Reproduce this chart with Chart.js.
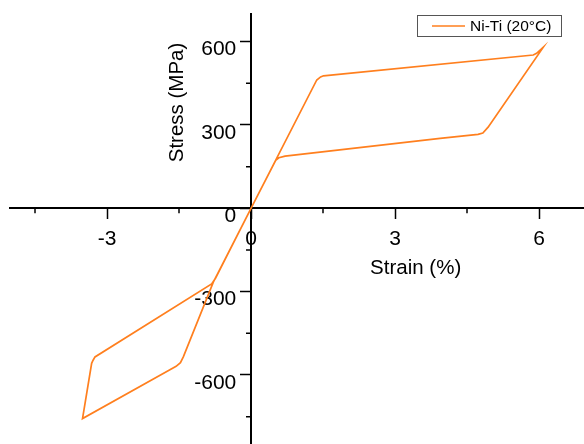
<!DOCTYPE html>
<html>
<head>
<meta charset="utf-8">
<script src="https://cdn.jsdelivr.net/npm/chart.js@4"></script>
<style>
html, body { margin: 0; padding: 0; background: #fff; }
</style>
</head>
<body>
<canvas id="mycanvas" width="584" height="444"></canvas>
<script>
// data
var seriesLabel = "Ni-Ti (20°C)";
var strain = [0, 1.37, 1.45, 1.51, 5.88, 5.95, 6.09, 4.94, 4.83, 4.73, 3.94, 0.71, 0.58, 0.52, 0,
              -0.785, -1.41, -1.47, -1.56, -1.68, -3.51, -3.32, -3.29, -3.25, -0.82, -0.74, 0];
var stress = [0, 462, 473, 477, 552, 558, 580, 292, 271, 266, 252, 188, 182, 174, 0,
              -266, -535, -556, -569, -580, -757, -558, -547, -535, -272, -252, 0];
var xTicks = [-3, 0, 3, 6];
var xMinor = [-4.5, -1.5, 1.5, 4.5];
var yTicks = [-600, -300, 0, 300, 600];
var yMinor = [-750, -450, -150, 150, 450];
var xTitle = "Strain (%)";
var yTitle = "Stress (MPa)";

var lineColor = "#ff7f1e";
var fontFamily = "'Liberation Sans', Arial, sans-serif";

var points = [];
for (var i in strain) {
  points.push({ x: strain[i], y: stress[i] });
}

// minor ticks, axis titles and the boxed legend
var extras = {
  id: "extras",
  afterDraw: function(chart) {
    var ctx = chart.ctx;
    var xs = chart.scales.x, ys = chart.scales.y;
    var x0 = xs.getPixelForValue(0), y0 = ys.getPixelForValue(0);
    ctx.save();
    ctx.strokeStyle = "#000";
    ctx.lineWidth = 1.5;
    ctx.beginPath();
    xMinor.forEach(function(v) {
      var px = xs.getPixelForValue(v);
      ctx.moveTo(px, y0);
      ctx.lineTo(px, y0 + 5);
    });
    yMinor.forEach(function(v) {
      var py = ys.getPixelForValue(v);
      ctx.moveTo(x0, py);
      ctx.lineTo(x0 - 5, py);
    });
    ctx.stroke();

    ctx.fillStyle = "#000";
    ctx.font = "20.5px " + fontFamily;
    ctx.textAlign = "center";
    ctx.textBaseline = "middle";
    ctx.fillText(xTitle, xs.getPixelForValue(3.43), y0 + 60);
    ctx.save();
    ctx.translate(x0 - 74, ys.getPixelForValue(381));
    ctx.rotate(-Math.PI / 2);
    ctx.fillText(yTitle, 0, 0);
    ctx.restore();

    // legend
    var a = chart.chartArea;
    var bx = a.right - 167, by = a.top + 1;
    ctx.fillStyle = "#fff";
    ctx.fillRect(bx, by, 144, 21);
    ctx.strokeStyle = "#555";
    ctx.lineWidth = 1;
    ctx.strokeRect(bx + 0.5, by + 0.5, 144, 21);
    ctx.strokeStyle = lineColor;
    ctx.lineWidth = 1.5;
    ctx.beginPath();
    ctx.moveTo(bx + 15, by + 11);
    ctx.lineTo(bx + 48, by + 11);
    ctx.stroke();
    ctx.fillStyle = "#000";
    ctx.font = "15.5px " + fontFamily;
    ctx.textAlign = "left";
    ctx.fillText(seriesLabel, bx + 53, by + 12);
    ctx.restore();
  }
};

var ctx = document.getElementById("mycanvas");

var chart = new Chart(ctx, {
  type: "scatter",
  data: {
    datasets: [
      {
        label: seriesLabel,
        data: points,
        showLine: true,
        fill: false,
        tension: 0,
        borderColor: lineColor,
        backgroundColor: lineColor,
        borderWidth: 1.7,
        pointRadius: 0,
        pointHoverRadius: 0
      }
    ]
  },
  options: {
    responsive: false,
    devicePixelRatio: 1,
    animation: { duration: 0 },
    layout: { padding: { left: 10, top: 14, right: 0, bottom: 0 } },
    plugins: {
      legend: { display: false },
      tooltip: { enabled: false }
    },
    scales: {
      x: {
        type: "linear",
        min: -5.021,
        max: 6.9375,
        position: { y: 0 },
        afterBuildTicks: function(s) { s.ticks = xTicks.map(function(v) { return { value: v }; }); },
        grid: { drawOnChartArea: false, drawTicks: true, tickLength: 10, tickWidth: 1.5, tickColor: "#000" },
        border: { display: true, color: "#000", width: 2 },
        ticks: { color: "#000", font: { size: 21, family: fontFamily }, padding: 8, maxRotation: 0, autoSkip: false }
      },
      y: {
        type: "linear",
        min: -848.5,
        max: 699.5,
        position: { x: 0 },
        afterBuildTicks: function(s) { s.ticks = yTicks.map(function(v) { return { value: v }; }); },
        grid: { drawOnChartArea: false, drawTicks: true, tickLength: 10, tickWidth: 1.5, tickColor: "#000" },
        border: { display: true, color: "#000", width: 2 },
        ticks: {
          color: "#000",
          font: { size: 21, family: fontFamily },
          padding: -13,
          labelOffset: 8,
          autoSkip: false,
          // keep the labels clear of the tick marks
          callback: function(value) { return value + "\u2002\u2009"; }
        }
      }
    }
  },
  plugins: [extras]
});
</script>
</body>
</html>
